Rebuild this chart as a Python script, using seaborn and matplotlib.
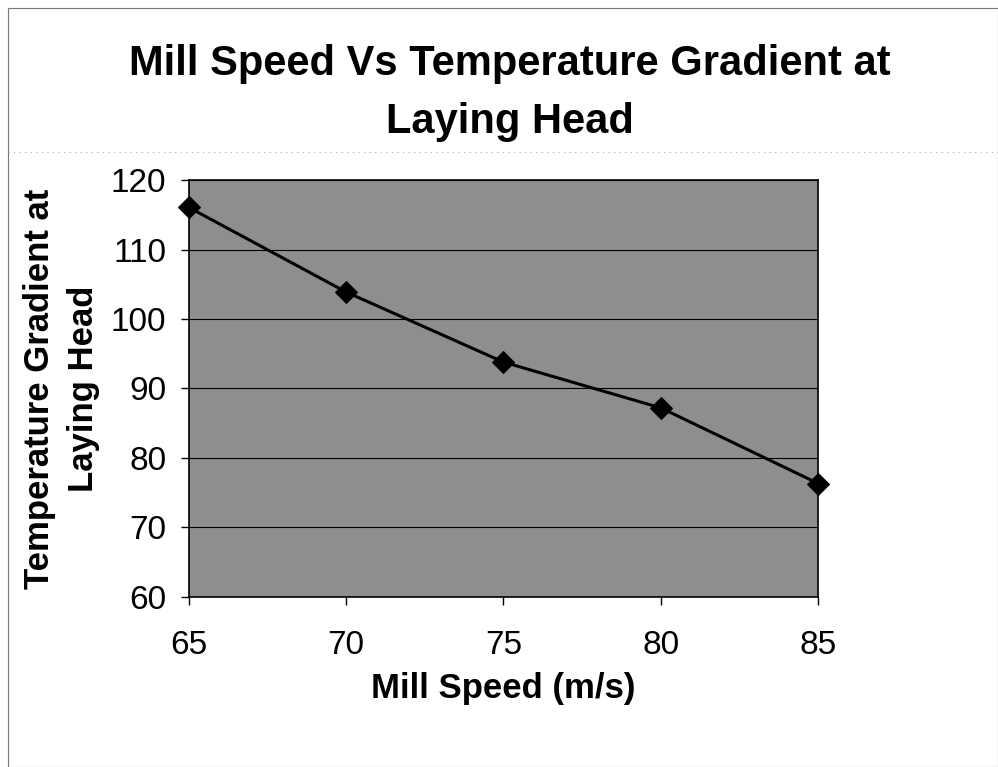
import matplotlib
matplotlib.use("Agg")
import matplotlib.pyplot as plt
import seaborn as sns
import pandas as pd
from matplotlib.patches import Rectangle
from matplotlib.lines import Line2D

mill_speed = [65, 70, 75, 80, 85]
temp_gradient = [116.1, 103.9, 93.8, 87.2, 76.3]
x_ticks = [65, 70, 75, 80, 85]
y_ticks = [60, 70, 80, 90, 100, 110, 120]

sns.set_theme(style="white")
plt.rcParams['font.family'] = ['Liberation Sans', 'DejaVu Sans']
plt.rcParams['text.color'] = 'black'
plt.rcParams['axes.labelcolor'] = 'black'
plt.rcParams['xtick.color'] = 'black'
plt.rcParams['ytick.color'] = 'black'

df = pd.DataFrame({"speed": mill_speed, "temp": temp_gradient})

fig = plt.figure(figsize=(9.98, 7.67), dpi=100)
ax = fig.add_axes([0.189, 0.222, 0.631, 0.543])
ax.set_facecolor("#8e8e8e")

sns.lineplot(data=df, x="speed", y="temp", ax=ax, color="black", linewidth=2.2,
             marker="D", markersize=11, markeredgecolor="black", markerfacecolor="black",
             clip_on=False, zorder=5)

ax.set_xlim(65, 85)
ax.set_ylim(60, 120)
ax.set_xticks(x_ticks)
ax.set_yticks(y_ticks)
ax.set_xticklabels([str(v) for v in x_ticks], fontsize=24)
ax.set_yticklabels([str(v) for v in y_ticks], fontsize=24)
ax.tick_params(axis="both", direction="out", length=6, width=1, color="black",
               bottom=True, left=True)
ax.tick_params(axis="x", pad=18)
ax.tick_params(axis="y", pad=10)
ax.grid(axis="y", color="black", linewidth=0.8)
ax.grid(axis="x", visible=False)
for s in ax.spines.values():
    s.set_color("black")
    s.set_linewidth(1.2)

ax.set_xlabel("Mill Speed (m/s)", fontsize=25, fontweight="bold", labelpad=8)
ax.set_ylabel("Temperature Gradient at\nLaying Head", fontsize=25, fontweight="bold",
              labelpad=8, linespacing=1.4)

fig.text(0.511, 0.879, "Mill Speed Vs Temperature Gradient at\nLaying Head",
         ha="center", va="center", fontsize=30, fontweight="bold", linespacing=1.6)

# chart border
fig.add_artist(Rectangle((0.008, 0.0), 0.992, 0.99, transform=fig.transFigure,
                         fill=False, edgecolor="#777777", linewidth=0.8))
fig.add_artist(Line2D([0.008, 1.0], [0.802, 0.802], transform=fig.transFigure,
                      color="#aaaaaa", linewidth=0.8, linestyle=(0, (1, 4))))

fig.savefig("out.png", dpi=100)
